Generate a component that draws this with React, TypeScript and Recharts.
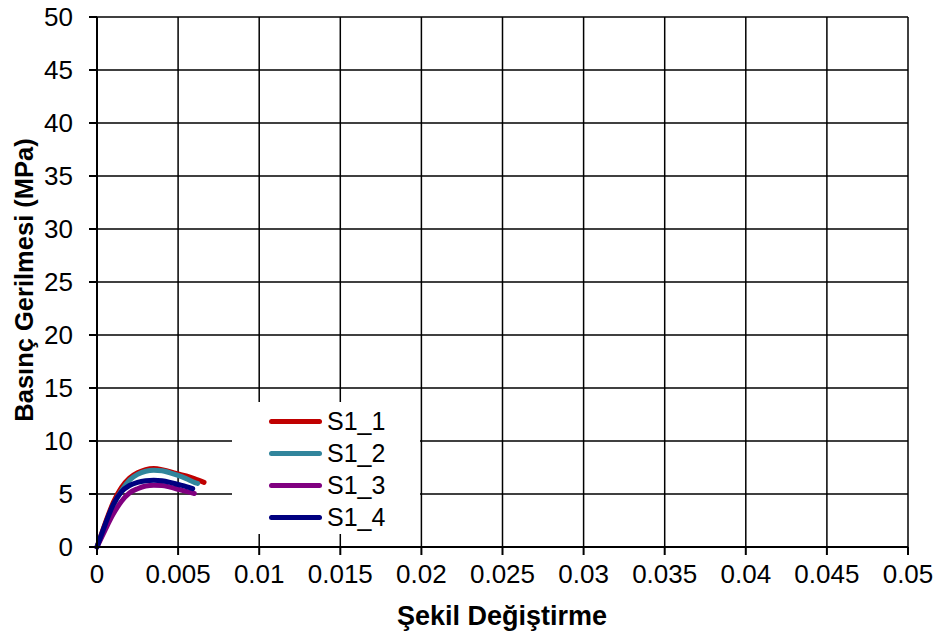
import { LineChart, Line, XAxis, YAxis, CartesianGrid, Legend, Label } from 'recharts';

interface Pt {
  x: number;
  y: number;
}

const xTicks = [0, 0.005, 0.01, 0.015, 0.02, 0.025, 0.03, 0.035, 0.04, 0.045, 0.05];
const yTicks = [0, 5, 10, 15, 20, 25, 30, 35, 40, 45, 50];

const s1_1: Pt[] = [
  { x: 0, y: 0 }, { x: 0.0005, y: 2.2 }, { x: 0.001, y: 4.2 }, { x: 0.0015, y: 5.6 },
  { x: 0.002, y: 6.5 }, { x: 0.0025, y: 7.0 }, { x: 0.003, y: 7.3 }, { x: 0.0035, y: 7.4 },
  { x: 0.004, y: 7.3 }, { x: 0.0045, y: 7.1 }, { x: 0.005, y: 6.9 }, { x: 0.0055, y: 6.7 },
  { x: 0.006, y: 6.45 }, { x: 0.0066, y: 6.1 },
];
const s1_2: Pt[] = [
  { x: 0, y: 0 }, { x: 0.0005, y: 2.0 }, { x: 0.001, y: 3.9 }, { x: 0.0015, y: 5.3 },
  { x: 0.002, y: 6.3 }, { x: 0.0025, y: 6.85 }, { x: 0.003, y: 7.15 }, { x: 0.0035, y: 7.25 },
  { x: 0.004, y: 7.2 }, { x: 0.0045, y: 7.0 }, { x: 0.005, y: 6.75 }, { x: 0.0055, y: 6.45 },
  { x: 0.006, y: 6.1 }, { x: 0.0062, y: 6.0 },
];
const s1_3: Pt[] = [
  { x: 0, y: 0 }, { x: 0.0005, y: 1.6 }, { x: 0.001, y: 3.1 }, { x: 0.0015, y: 4.3 },
  { x: 0.002, y: 5.1 }, { x: 0.0025, y: 5.5 }, { x: 0.003, y: 5.75 }, { x: 0.0035, y: 5.82 },
  { x: 0.004, y: 5.8 }, { x: 0.0045, y: 5.65 }, { x: 0.005, y: 5.45 }, { x: 0.0055, y: 5.25 },
  { x: 0.006, y: 5.05 },
];
const s1_4: Pt[] = [
  { x: 0, y: 0 }, { x: 0.0005, y: 2.1 }, { x: 0.001, y: 4.0 }, { x: 0.0015, y: 5.2 },
  { x: 0.002, y: 5.8 }, { x: 0.0025, y: 6.1 }, { x: 0.003, y: 6.25 }, { x: 0.0035, y: 6.3 },
  { x: 0.004, y: 6.25 }, { x: 0.0045, y: 6.1 }, { x: 0.005, y: 5.9 }, { x: 0.0055, y: 5.7 },
  { x: 0.0059, y: 5.5 },
];

const series = [
  { name: 'S1_1', data: s1_1, color: '#c00000' },
  { name: 'S1_2', data: s1_2, color: '#31859c' },
  { name: 'S1_3', data: s1_3, color: '#800080' },
  { name: 'S1_4', data: s1_4, color: '#000080' },
];

const FONT = '"Liberation Sans", Arial, sans-serif';
const tickStyle = { fontSize: 26, fill: '#000', fontFamily: FONT };

const renderLegend = (props: any) => (
  <div style={{ background: '#fff', width: 188, height: 132, position: 'relative' }}>
    {(props.payload || []).map((entry: any, i: number) => (
      <div
        key={entry.value}
        style={{ position: 'absolute', left: 37, top: 4 + i * 32, height: 30, display: 'flex', alignItems: 'center' }}
      >
        <div style={{ width: 53, height: 5, borderRadius: 3, background: entry.color }} />
        <span style={{ marginLeft: 5, fontSize: 25, fontFamily: FONT, color: '#000' }}>{entry.value}</span>
      </div>
    ))}
  </div>
);

const App = () => (
  <div style={{ position: 'absolute', left: 0, top: 0, background: '#fff' }}>
    <LineChart width={938} height={639} margin={{ top: 17, right: 30, bottom: 0, left: 0 }}>
      <CartesianGrid stroke="#000" strokeWidth={1.5} />
      <XAxis
        type="number"
        dataKey="x"
        domain={[0, 0.05]}
        ticks={xTicks}
        interval={0}
        height={92}
        tick={tickStyle}
        tickLine={{ stroke: '#000', strokeWidth: 2 }}
        axisLine={{ stroke: '#000', strokeWidth: 2 }}
        tickSize={8}
        tickMargin={10}
      >
        <Label
          content={() => (
            <text x={502} y={625} textAnchor="middle" fontSize={27} fontWeight="bold" fontFamily={FONT} fill="#000">
              Şekil Değiştirme
            </text>
          )}
        />
      </XAxis>
      <YAxis
        type="number"
        domain={[0, 50]}
        ticks={yTicks}
        interval={0}
        width={97}
        tick={tickStyle}
        tickLine={{ stroke: '#000', strokeWidth: 2 }}
        axisLine={{ stroke: '#000', strokeWidth: 2 }}
        tickSize={8}
        tickMargin={16}
      >
        <Label
          content={() => (
            <text
              x={33}
              y={280}
              transform="rotate(-90 33 280)"
              textAnchor="middle"
              fontSize={25.5}
              fontWeight="bold"
              fontFamily={FONT}
              fill="#000"
            >
              Basınç Gerilmesi (MPa)
            </text>
          )}
        />
      </YAxis>
      <Legend
        layout="vertical"
        align="center"
        verticalAlign="middle"
        content={renderLegend}
        wrapperStyle={{ left: 232, top: 402, width: 188, height: 132 }}
      />
      {series.map((s) => (
        <Line
          key={s.name}
          data={s.data}
          dataKey="y"
          name={s.name}
          type="monotone"
          stroke={s.color}
          strokeWidth={5}
          strokeLinecap="round"
          dot={false}
          activeDot={false}
          isAnimationActive={false}
        />
      ))}
    </LineChart>
  </div>
);

export default App;
